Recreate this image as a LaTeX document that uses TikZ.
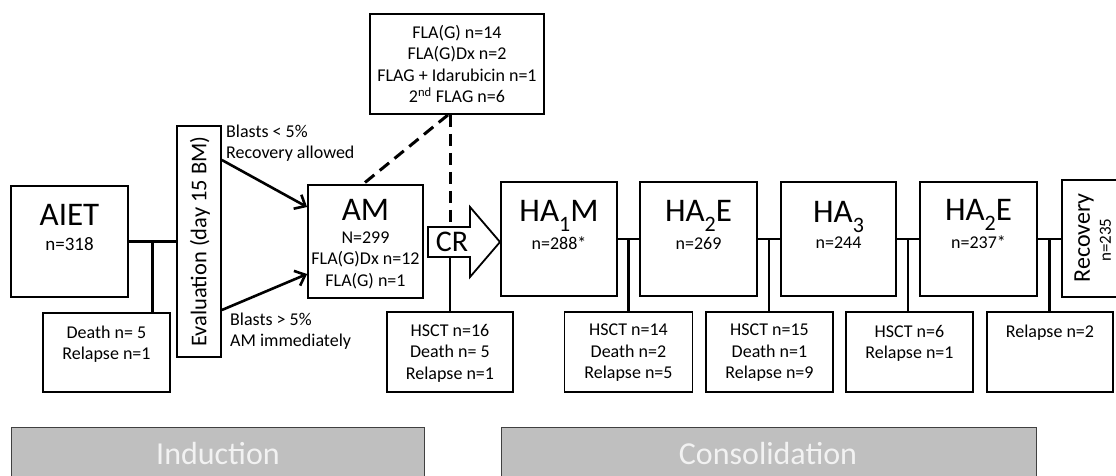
\documentclass[tikz,border=0pt]{standalone}
\usepackage{fontspec}
\setmainfont{Carlito}
\usetikzlibrary{arrows.meta,calc}
\newcommand{\lowsub}[1]{\raisebox{-0.28em}{\fontsize{22}{22}\selectfont #1}}
\begin{document}
\begin{tikzpicture}[x=1pt,y=-1pt,
  box/.style={draw,line width=1.8pt,inner sep=0pt},
  conn/.style={line width=2.6pt},
  arr/.style={line width=2.6pt,-{Straight Barb[length=9pt,width=16pt,line width=2.6pt]}},
  dsh/.style={line width=3pt,dash pattern=on 12pt off 7pt},
  band/.style={draw=black!75,line width=1pt,fill=black!25,inner sep=0pt},
  small/.style={font=\fontsize{18}{21.5}\selectfont,align=center,inner sep=0pt},
  big/.style={font=\fontsize{33}{36}\selectfont,inner sep=0pt},
  bandtxt/.style={font=\fontsize{32}{36}\selectfont,text=white!95!black,inner sep=0pt}]
\useasboundingbox (0,0) rectangle (1116,475);
\clip (0,0) rectangle (1116,475);
% boxes
\node[box,minimum width=117pt,minimum height=111pt] (aiet) at (69.5,241.5) {};
\node[box,minimum width=127pt,minimum height=79pt] (death) at (106.5,352.5) {};
\node[box,minimum width=44pt,minimum height=231pt] (eval) at (199,241.5) {};
\node[box,minimum width=115pt,minimum height=113pt] (am) at (365.5,241.5) {};
\node[box,minimum width=174pt,minimum height=100pt] (top) at (457,64) {};
\node[box,minimum width=126pt,minimum height=80pt] (hsctA) at (450,352) {};
\node[box,minimum width=116pt,minimum height=114pt] (haA) at (559,239) {};
\node[box,minimum width=117pt,minimum height=114pt] (haB) at (698.5,239) {};
\node[box,minimum width=128pt,minimum height=80pt] (hsctB) at (628.5,352) {};
\node[box,minimum width=115pt,minimum height=114pt] (haC) at (838.5,239) {};
\node[box,minimum width=127pt,minimum height=80pt] (hsctC) at (769.5,352) {};
\node[box,minimum width=117pt,minimum height=114pt] (haD) at (978.5,239) {};
\node[box,minimum width=127pt,minimum height=80pt] (hsctD) at (909.5,352) {};
\node[box,minimum width=70pt,minimum height=117pt] (recov) at (1097,238.5) {};
\node[box,minimum width=126pt,minimum height=80pt] (relB) at (1050,352) {};
% bands
\node[band,minimum width=413pt,minimum height=70pt] (indb) at (217.5,462) {};
\node[band,minimum width=535pt,minimum height=70pt] (consb) at (768.5,462) {};
\node[bandtxt] (indt) at (218,453) {Induction};
\node[bandtxt] (const) at (768,453) {Consolidation};
% CR arrow
\draw[line width=1.8pt,fill=white] (428,227) -- (470,227) -- (470,207) -- (500,242) -- (470,277) -- (470,257) -- (428,257) -- cycle;
\coordinate (crt) at (450,227);
\coordinate (crb) at (450,257);
\node[font=\fontsize{30}{32}\selectfont,inner sep=0pt] (cr) at (452,242) {CR};
% texts
\node[big] (aietT) at (69.5,215) {AIET};
\node[small,font=\fontsize{19}{21}\selectfont] (aietN) at (69.5,244) {n=318};
\node[small] (deathT) at (106.5,344) {Death n= 5\\Relapse n=1};
\node[rotate=90,font=\fontsize{22.5}{24}\selectfont,inner sep=0pt] (evalT) at (200,241.5) {Evaluation (day 15 BM)};
\node[big] (amT) at (365.5,210) {AM};
\node[small] (amN) at (365.5,260) {N=299\\FLA(G)Dx n=12\\FLA(G) n=1};
\node[small] (topT) at (457,64) {FLA(G) n=14\\FLA(G)Dx n=2\\FLAG + Idarubicin n=1\\2\textsuperscript{nd} FLAG n=6};
\node[small,align=left,anchor=west] (bl1) at (226,143) {Blasts < 5\%\\Recovery allowed};
\node[small,align=left,anchor=west] (bl2) at (230,331) {Blasts > 5\%\\AM immediately};
\node[small] (hsctAT) at (450,353) {HSCT n=16\\Death n= 5\\Relapse n=1};
\node[small] (hsctBT) at (628.5,353) {HSCT n=14\\Death n=2\\Relapse n=5};
\node[small] (hsctCT) at (769.5,353) {HSCT n=15\\Death n=1\\Relapse n=9};
\node[small] (hsctDT) at (909.5,343.5) {HSCT n=6\\Relapse n=1};
\node[small] (relBT) at (1050,333) {Relapse n=2};
\node[big] (haAT) at (559,216) {HA\lowsub{1}M};
\node[small] (haAN) at (559,243) {n=288*};
\node[big] (haBT) at (698.5,216) {HA\lowsub{2}E};
\node[small] (haBN) at (698.5,243) {n=269};
\node[big] (haCT) at (838.5,217) {HA\lowsub{3}};
\node[small] (haCN) at (838.5,243) {n=244};
\node[big] (haDT) at (978.5,215) {HA\lowsub{2}E};
\node[small] (haDN) at (978.5,242) {n=237*};
\node[rotate=90,font=\fontsize{24}{25}\selectfont,inner sep=0pt] (recT) at (1084,238) {Recovery};
\node[rotate=90,small,font=\fontsize{17}{20}\selectfont] (recN) at (1105.5,240) {n=235};
% connectors
\draw[conn] (aiet.east) -- (eval.west);
\coordinate (m0) at ($(aiet.east)!0.5!(eval.west)$);
\draw[conn] (m0) -- (m0 |- death.north);
\draw[arr] ([yshift=81.5pt]eval.east) -- ([yshift=34.5pt]am.west);
\draw[arr] ([yshift=-68.5pt]eval.east) -- ([yshift=-32.5pt]am.west);
\draw[dsh] ([xshift=-9pt]top.south) -- ([xshift=-2.5pt]am.north);
\draw[dsh] ([xshift=-7pt]top.south) -- (crt);
\draw[conn] (crb) -- (hsctA.north);
\draw[conn] (haA.east) -- (haB.west);
\coordinate (m1) at ($(haA.east)!0.5!(haB.west)$);
\draw[conn] (m1) -- (m1 |- hsctB.north);
\draw[conn] (haB.east) -- (haC.west);
\coordinate (m2) at ($(haB.east)!0.5!(haC.west)$);
\draw[conn] (m2) -- (m2 |- hsctC.north);
\draw[conn] (haC.east) -- (haD.west);
\coordinate (m3) at ($(haC.east)!0.5!(haD.west)$);
\draw[conn] (m3) -- (m3 |- hsctD.north);
\draw[conn] (haD.east) -- (haD.east -| recov.west);
\coordinate (m4) at ($(haD.east)!0.5!(haD.east -| recov.west)$);
\draw[conn] (m4) -- (m4 |- relB.north);
\end{tikzpicture}
\end{document}
